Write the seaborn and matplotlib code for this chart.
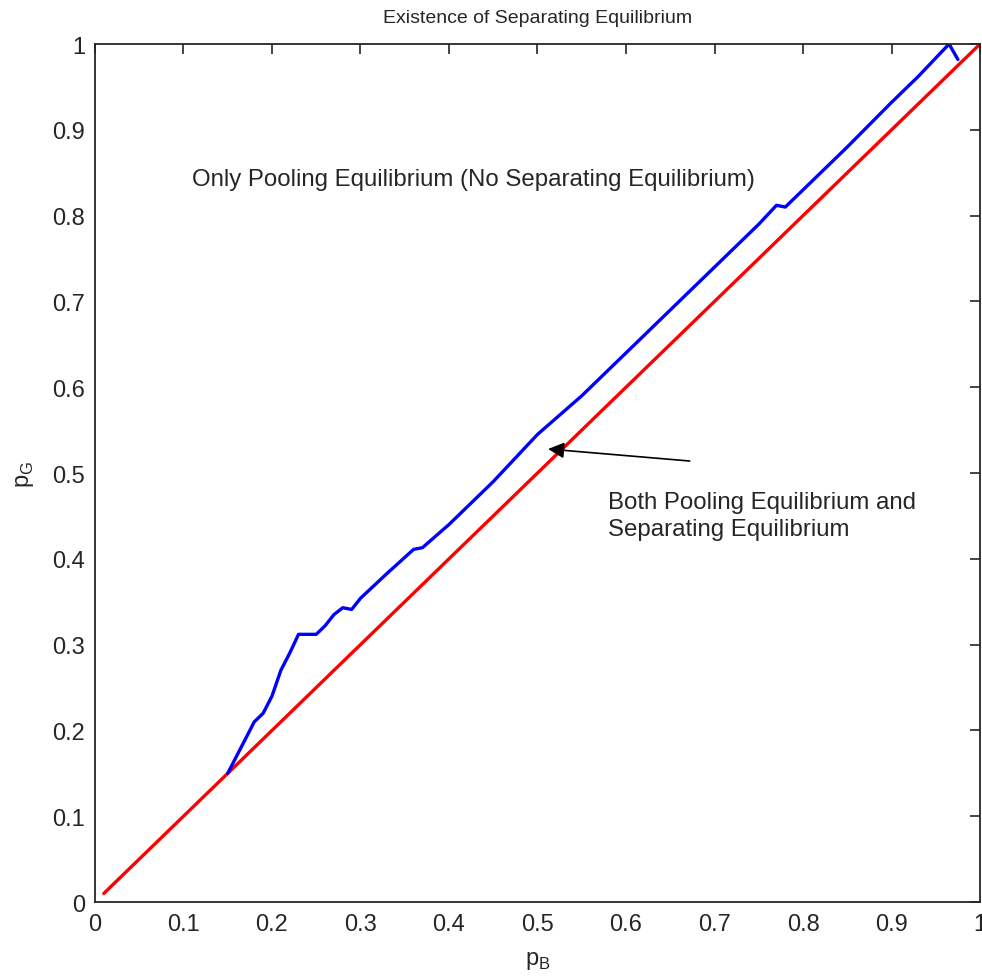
import matplotlib
matplotlib.use("Agg")
import matplotlib.pyplot as plt
import seaborn as sns
import pandas as pd

# Data
pB_red = [0.01, 0.05, 0.10, 0.15, 0.20, 0.25, 0.30, 0.35, 0.40, 0.45, 0.50,
          0.55, 0.60, 0.65, 0.70, 0.75, 0.80, 0.85, 0.90, 0.95, 1.00]
pG_red = [0.01, 0.05, 0.10, 0.15, 0.20, 0.25, 0.30, 0.35, 0.40, 0.45, 0.50,
          0.55, 0.60, 0.65, 0.70, 0.75, 0.80, 0.85, 0.90, 0.95, 1.00]

pB_blue = [0.15, 0.17, 0.18, 0.19, 0.20, 0.21, 0.22, 0.23, 0.25, 0.26, 0.27,
           0.28, 0.29, 0.30, 0.33, 0.36, 0.37, 0.40, 0.45, 0.50, 0.55, 0.60,
           0.65, 0.70, 0.75, 0.77, 0.78, 0.80, 0.85, 0.90, 0.93, 0.965, 0.975]
pG_blue = [0.15, 0.19, 0.21, 0.22, 0.24, 0.27, 0.29, 0.312, 0.312, 0.322, 0.335,
           0.343, 0.341, 0.354, 0.383, 0.411, 0.413, 0.44, 0.49, 0.545, 0.59, 0.64,
           0.69, 0.74, 0.79, 0.812, 0.81, 0.83, 0.88, 0.932, 0.962, 1.0, 0.982]

x_ticks = [0, 0.1, 0.2, 0.3, 0.4, 0.5, 0.6, 0.7, 0.8, 0.9, 1]
tick_labels = ["0", "0.1", "0.2", "0.3", "0.4", "0.5", "0.6", "0.7", "0.8", "0.9", "1"]

title = "Existence of Separating Equilibrium"
region_text = "Only Pooling Equilibrium (No Separating Equilibrium)"
arrow_text = "Both Pooling Equilibrium and\nSeparating Equilibrium"

sns.set_style("white")
plt.rcParams['font.family'] = ['Liberation Sans', 'DejaVu Sans']
plt.rcParams['mathtext.fontset'] = 'custom'
plt.rcParams['mathtext.rm'] = 'Liberation Sans'

fig = plt.figure(figsize=(9.82, 9.79), dpi=100)
ax = fig.add_axes([0.0967, 0.0776, 0.9013, 0.8764])

df_red = pd.DataFrame({"pB": pB_red, "pG": pG_red})
df_blue = pd.DataFrame({"pB": pB_blue, "pG": pG_blue})
sns.lineplot(data=df_red, x="pB", y="pG", color="#ff0000", linewidth=2.4, sort=False, ax=ax)
sns.lineplot(data=df_blue, x="pB", y="pG", color="#0000ff", linewidth=2.4, sort=False, ax=ax)

ax.set_xlim(0, 1)
ax.set_ylim(0, 1)
ax.set_xticks(x_ticks)
ax.set_xticklabels(tick_labels)
ax.set_yticks(x_ticks)
ax.set_yticklabels(tick_labels)
ax.tick_params(direction="in", length=7, width=1.2, top=True, right=True,
               labelsize=17, colors="#262626")
ax.tick_params(axis="x", pad=8)
ax.tick_params(axis="y", pad=7)
for s in ax.spines.values():
    s.set_visible(True)
    s.set_color("#262626")
    s.set_linewidth(1.3)

ax.set_xlabel(r"p$_\mathregular{B}$", fontsize=17, labelpad=10)
ax.set_ylabel(r"p$_\mathregular{G}$", fontsize=17, labelpad=12)
ax.set_title(title, fontsize=14, pad=16)

ax.text(0.11, 0.843, region_text, fontsize=17.3, ha="left", va="center")
ax.text(0.58, 0.45, arrow_text, fontsize=17.3, ha="left", va="center", linespacing=1.3)
ax.annotate("", xy=(0.512, 0.528), xytext=(0.672, 0.514),
            arrowprops=dict(arrowstyle="-|>", color="black", lw=1.2,
                            mutation_scale=24, shrinkA=0, shrinkB=0))

fig.savefig("out.png", dpi=100)
